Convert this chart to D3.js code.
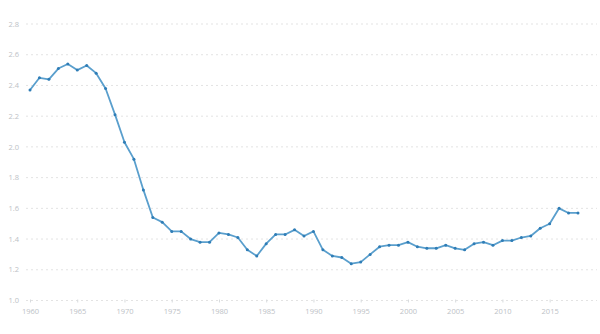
<!DOCTYPE html>
<html>
<head>
<meta charset="utf-8">
<script src="https://cdn.jsdelivr.net/npm/d3@7"></script>
<style>
  html, body { margin: 0; padding: 0; background: #fff; }
  svg { display: block; font-family: "Open Sans", "Noto Sans", sans-serif; }
</style>
</head>
<body>
<svg id="chart" width="600" height="334"></svg>
<script>
// Fertility rate, births per woman
const years = d3.range(1960, 2019);
const fertility = [
  2.37, 2.45, 2.44, 2.51, 2.54, 2.50, 2.53, 2.48, 2.38, 2.21,
  2.03, 1.92, 1.72, 1.54, 1.51, 1.45, 1.45, 1.40, 1.38, 1.38,
  1.44, 1.43, 1.41, 1.33, 1.29, 1.37, 1.43, 1.43, 1.46, 1.42,
  1.45, 1.33, 1.29, 1.28, 1.24, 1.25, 1.30, 1.35, 1.36, 1.36,
  1.38, 1.35, 1.34, 1.34, 1.36, 1.34, 1.33, 1.37, 1.38, 1.36,
  1.39, 1.39, 1.41, 1.42, 1.47, 1.50, 1.60, 1.57, 1.57
];
const yTicks = [1.0, 1.2, 1.4, 1.6, 1.8, 2.0, 2.2, 2.4, 2.6, 2.8];
const xTicks = [1960, 1965, 1970, 1975, 1980, 1985, 1990, 1995, 2000, 2005, 2010, 2015];

const data = years.map((y, i) => ({ year: y, value: fertility[i] }));

const svg = d3.select("#chart");
const x = d3.scaleLinear().domain([1960, 2018]).range([30, 578]);
const y = d3.scaleLinear().domain([1.0, 2.8]).range([300.5, 24]);
const gridLeft = 26, gridRight = 597;

// horizontal dotted gridlines
svg.append("g")
  .selectAll("line")
  .data(yTicks)
  .join("line")
  .attr("x1", gridLeft).attr("x2", gridRight)
  .attr("y1", d => y(d)).attr("y2", d => y(d))
  .attr("stroke", "#e3e3e3")
  .attr("stroke-width", 1)
  .attr("stroke-dasharray", "2,3");

// y tick labels
svg.append("g")
  .selectAll("text")
  .data(yTicks)
  .join("text")
  .attr("x", 19)
  .attr("y", d => y(d))
  .attr("dy", "0.35em")
  .attr("text-anchor", "end")
  .attr("font-size", 7.5)
  .attr("fill", "#bcc1c6")
  .text(d => d3.format(".1f")(d));

// x axis with short ticks, no domain line
const xAxis = d3.axisBottom(x)
  .tickValues(xTicks)
  .tickFormat(d3.format("d"))
  .tickSize(3)
  .tickPadding(6);
const gx = svg.append("g")
  .attr("transform", `translate(0,${y(1.0) - 1})`)
  .call(xAxis);
gx.select(".domain").remove();
gx.selectAll(".tick line").attr("stroke", "#d8dbde");
gx.selectAll(".tick text")
  .attr("font-size", 7.5)
  .attr("fill", "#bcc1c6")
  .attr("font-family", "\"Open Sans\", \"Noto Sans\", sans-serif");

// series line
const line = d3.line()
  .x(d => x(d.year))
  .y(d => y(d.value));

svg.append("path")
  .datum(data)
  .attr("fill", "none")
  .attr("stroke", "#5a9fcd")
  .attr("stroke-width", 1.8)
  .attr("stroke-linejoin", "round")
  .attr("d", line);

// point markers
svg.append("g")
  .selectAll("circle")
  .data(data)
  .join("circle")
  .attr("cx", d => x(d.year))
  .attr("cy", d => y(d.value))
  .attr("r", 1.5)
  .attr("fill", "#2f7db6");
</script>
</body>
</html>
